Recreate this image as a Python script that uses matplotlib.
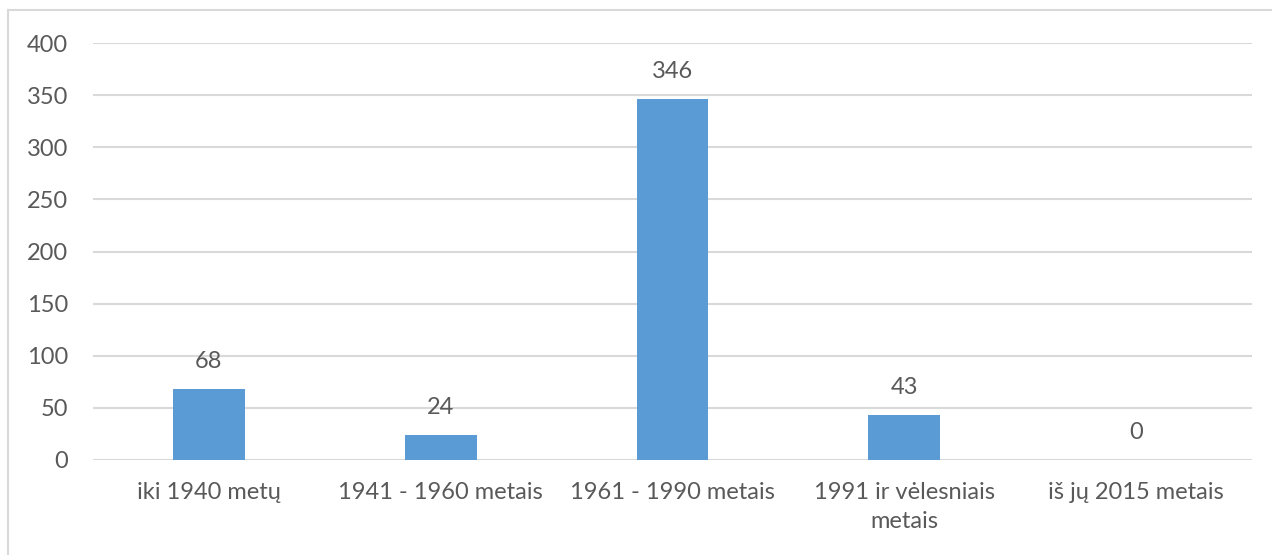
import matplotlib
matplotlib.use("Agg")
import matplotlib.pyplot as plt
from matplotlib.lines import Line2D

categories = ["iki 1940 metų", "1941 - 1960 metais", "1961 - 1990 metais",
              "1991 ir vėlesniais\nmetais", "iš jų 2015 metais"]
values = [68, 24, 346, 43, 0]
yticks = [0, 50, 100, 150, 200, 250, 300, 350, 400]

plt.rcParams['font.family'] = ['Lato', 'DejaVu Sans']
TXT = '#595959'
GRID = '#D9D9D9'
BAR = '#5B9BD5'

fig = plt.figure(figsize=(12.72, 5.55), dpi=100)
ax = fig.add_axes([93/1272, 1-460/555, (1252-93)/1272, (460-43)/555])

x = list(range(len(categories)))
bars = ax.bar(x, values, width=0.31, color=BAR, zorder=3)
ax.set_xlim(-0.5, len(categories)-0.5)
ax.set_ylim(0, 400)
ax.set_yticks(yticks)
ax.set_xticks(x)
ax.set_xticklabels(categories, linespacing=1.45)
ax.yaxis.grid(True, color=GRID, linewidth=1.5, zorder=0)
for s in ax.spines.values():
    s.set_visible(False)
ax.tick_params(axis='both', length=0, colors=TXT, labelsize=17)
ax.tick_params(axis='y', pad=18)
ax.tick_params(axis='x', pad=16)

for xi, v in zip(x, values):
    ax.annotate(str(v), (xi, v), xytext=(0, 20), textcoords='offset points',
                ha='center', va='center', color=TXT, fontsize=17)

# chart-area border (top and left visible)
fig.add_artist(Line2D([8/1272, 8/1272], [0, 1-10/555], transform=fig.transFigure,
                      color=GRID, linewidth=1.5))
fig.add_artist(Line2D([8/1272, 1], [1-10/555, 1-10/555], transform=fig.transFigure,
                      color=GRID, linewidth=1.5))

fig.savefig("out.png", dpi=100)
